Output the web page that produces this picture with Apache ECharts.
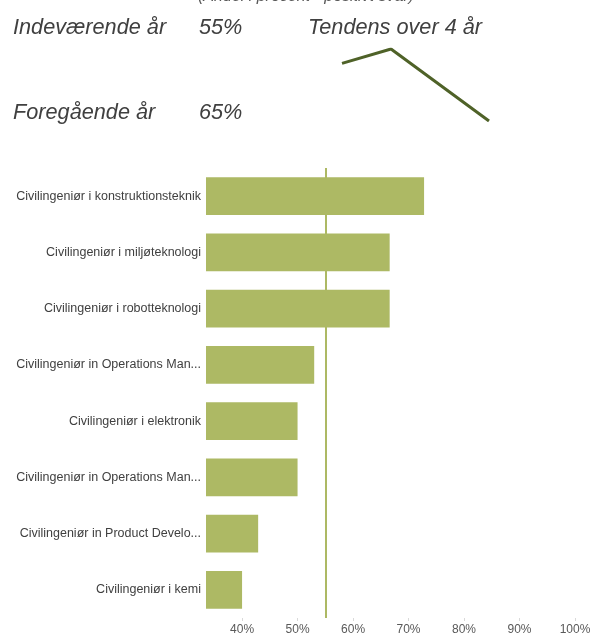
<!DOCTYPE html>
<html>
<head>
<meta charset="utf-8">
<script src="https://cdn.jsdelivr.net/npm/echarts@6/dist/echarts.min.js"></script>
<style>
html,body{margin:0;padding:0;background:#fff;}
#chart{width:597px;height:637px;}
</style>
</head>
<body>
<div id="chart"></div>
<script>
// ---- data ----
var categories = [
  'Civilingeniør i konstruktionsteknik',
  'Civilingeniør i miljøteknologi',
  'Civilingeniør i robotteknologi',
  'Civilingeniør in Operations Man...',
  'Civilingeniør i elektronik',
  'Civilingeniør in Operations Man...',
  'Civilingeniør in Product Develo...',
  'Civilingeniør i kemi'
];
var values = [72.8, 66.6, 66.6, 53.0, 50.0, 50.0, 42.9, 40.0];
var currentYear = 55;
var previousYear = 65;
var trendYears = ['1', '2', '3', '4'];
var trendValues = [71, 75, 65, 55];
var tickValues = [40, 50, 60, 70, 80, 90, 100];
var subtitle = '(Andel i procent - positivt svar)';

var barColor = '#adb964';
var textColor = '#404040';
var headFont = 'italic 21.7px "Liberation Sans", Arial, sans-serif';

var chart = echarts.init(document.getElementById('chart'), null, {renderer: 'canvas'});
chart.setOption({
  animation: false,
  backgroundColor: '#ffffff',
  grid: [
    {left: 206, right: 22, top: 168, bottom: 19, containLabel: false},
    {left: 342, top: 49, width: 147, height: 72}
  ],
  xAxis: [
    {
      type: 'value', gridIndex: 0, min: 33.5, max: 100,
      splitLine: {show: false},
      axisLine: {show: false},
      axisTick: {show: true, customValues: tickValues, length: 3, lineStyle: {color: '#d9d9d9'}},
      axisLabel: {customValues: tickValues, formatter: function (v) { return v + '%'; },
        color: '#595959', fontSize: 12, fontFamily: '"Liberation Sans", Arial, sans-serif', margin: 6}
    },
    {
      type: 'category', gridIndex: 1, data: trendYears, boundaryGap: false, show: false
    }
  ],
  yAxis: [
    {
      type: 'category', gridIndex: 0, data: categories, inverse: true,
      axisLine: {show: false}, axisTick: {show: false}, splitLine: {show: false},
      axisLabel: {color: textColor, fontSize: 12.5, fontFamily: '"Liberation Sans", Arial, sans-serif', margin: 5}
    },
    {
      type: 'value', gridIndex: 1, min: 55, max: 75, show: false
    }
  ],
  series: [
    {
      type: 'bar', xAxisIndex: 0, yAxisIndex: 0, data: values,
      barWidth: '67%',
      itemStyle: {color: barColor},
      markLine: {
        silent: true, symbol: 'none',
        label: {show: false},
        lineStyle: {color: barColor, width: 2, type: 'solid'},
        data: [{xAxis: currentYear}]
      }
    },
    {
      type: 'line', xAxisIndex: 1, yAxisIndex: 1, data: trendValues,
      symbol: 'none',
      lineStyle: {color: '#4f6228', width: 3}
    }
  ],
  graphic: [
    {type: 'text', x: 306, y: -11, style: {text: subtitle, fill: '#595959', font: 'italic 16px "Liberation Sans", Arial, sans-serif', align: 'center', verticalAlign: 'top'}},
    {type: 'text', x: 13, y: 28, style: {text: 'Indeværende år', fill: textColor, font: headFont, verticalAlign: 'middle'}},
    {type: 'text', x: 199, y: 28, style: {text: currentYear + '%', fill: textColor, font: headFont, verticalAlign: 'middle'}},
    {type: 'text', x: 308, y: 28, style: {text: 'Tendens over 4 år', fill: textColor, font: headFont, verticalAlign: 'middle'}},
    {type: 'text', x: 13, y: 113, style: {text: 'Foregående år', fill: textColor, font: headFont, verticalAlign: 'middle'}},
    {type: 'text', x: 199, y: 113, style: {text: previousYear + '%', fill: textColor, font: headFont, verticalAlign: 'middle'}}
  ]
});
</script>
</body>
</html>
